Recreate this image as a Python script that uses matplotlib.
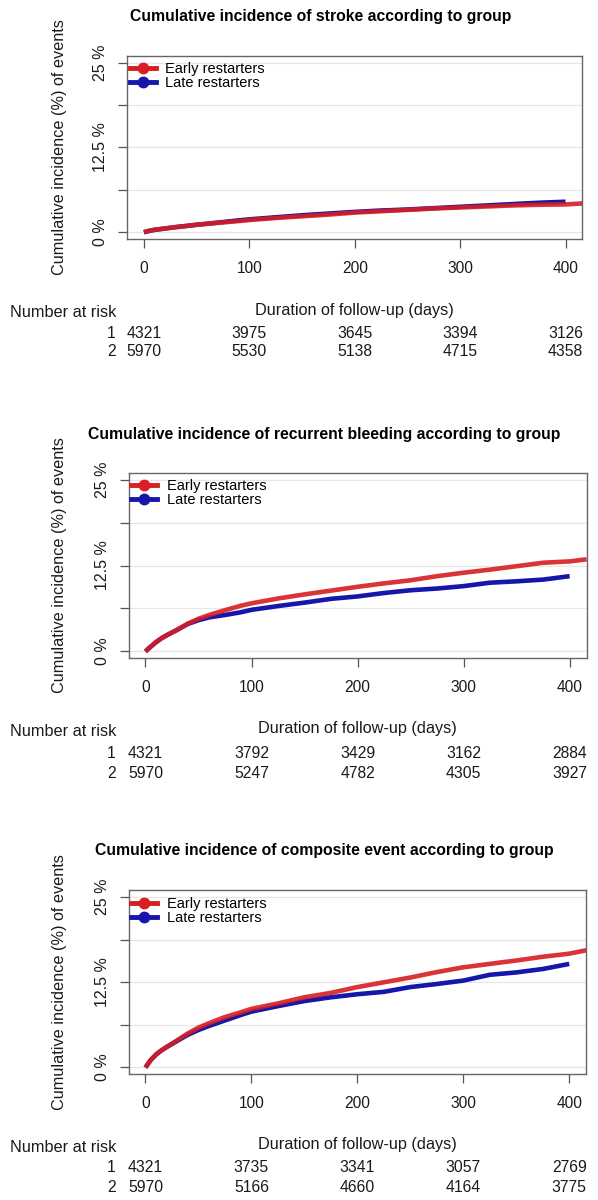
import matplotlib
matplotlib.use('Agg')
import matplotlib.pyplot as plt
from matplotlib.transforms import blended_transform_factory

plt.rcParams['font.family'] = ['Liberation Sans', 'DejaVu Sans']

# 随访天数（曲线取点）
days_late = [0, 5, 10, 15, 20, 30, 40, 50, 60, 75, 90, 100, 125, 150, 175, 200, 225, 250, 275, 300, 325, 350, 375, 400]
days_early = days_late + [416]

# stroke
stroke_early = [0, 0.2, 0.35, 0.45, 0.55, 0.75, 0.92, 1.1, 1.25, 1.45, 1.65, 1.8, 2.1, 2.35, 2.6, 2.9,
                3.1, 3.3, 3.5, 3.65, 3.8, 3.95, 4.05, 4.1, 4.25]
stroke_late = [0, 0.2, 0.35, 0.45, 0.55, 0.75, 0.92, 1.1, 1.25, 1.5, 1.75, 1.9, 2.2, 2.5, 2.75, 3.0,
               3.2, 3.35, 3.55, 3.75, 3.95, 4.15, 4.35, 4.5]
# recurrent bleeding
bleed_early = [0, 0.7, 1.35, 1.9, 2.35, 3.15, 4.05, 4.75, 5.3, 6.0, 6.65, 7.0, 7.7, 8.3, 8.85, 9.4,
               9.9, 10.35, 10.95, 11.45, 11.9, 12.4, 12.9, 13.1, 13.4]
bleed_late = [0, 0.7, 1.35, 1.9, 2.35, 3.15, 4.0, 4.55, 4.95, 5.3, 5.7, 6.05, 6.6, 7.1, 7.65, 8.0,
              8.5, 8.9, 9.15, 9.5, 10.0, 10.2, 10.45, 10.95]
# composite event
comp_early = [0, 1.1, 1.9, 2.5, 3.0, 4.0, 5.0, 5.85, 6.5, 7.4, 8.1, 8.6, 9.4, 10.3, 10.95, 11.8,
              12.5, 13.2, 14.0, 14.7, 15.2, 15.7, 16.25, 16.7, 17.2]
comp_late = [0, 1.1, 1.9, 2.5, 3.0, 3.9, 4.8, 5.5, 6.1, 6.9, 7.7, 8.2, 9.0, 9.75, 10.3, 10.75,
             11.1, 11.8, 12.25, 12.75, 13.6, 13.95, 14.45, 15.2]

titles = ['Cumulative incidence of stroke according to group',
          'Cumulative incidence of recurrent bleeding according to group',
          'Cumulative incidence of composite event according to group']

risk_times = [0, 100, 200, 300, 400]
risk_stroke = [[4321, 3975, 3645, 3394, 3126], [5970, 5530, 5138, 4715, 4358]]
risk_bleed = [[4321, 3792, 3429, 3162, 2884], [5970, 5247, 4782, 4305, 3927]]
risk_comp = [[4321, 3735, 3341, 3057, 2769], [5970, 5166, 4660, 4164, 3775]]

y_ticks = [0, 6.25, 12.5, 18.75, 25]
y_ticklabels = ['0 %', '', '12.5 %', '', '25 %']
group_labels = ['Early restarters', 'Late restarters']

RED = '#d81e22'
BLUE = '#1616aa'
TXT = '#1a1a1a'
W, H = 598, 1200

fig = plt.figure(figsize=(W / 100, H / 100), dpi=100)

# 每个面板的像素位置: 左, 右, 上, 下, 标题x, 标题y, x标签y, 风险行1 y, 风险行2 y
panels = [
    (127, 582.4, 56, 239, 321, 17, 310, 333, 352),
    (128.5, 586.6, 472.7, 658.3, 324.4, 434, 729, 753, 773),
    (128.5, 586.2, 890.3, 1074.3, 324, 851, 1145, 1168, 1188),
]
series = [(stroke_early, stroke_late, risk_stroke),
          (bleed_early, bleed_late, risk_bleed),
          (comp_early, comp_late, risk_comp)]


def fy(ypix):
    return 1 - ypix / H


for (l, r, t, b, tx, ty, xly, r1y, r2y), (early, late, risk), title in zip(panels, series, titles):
    ax = fig.add_axes([l / W, fy(b), (r - l) / W, (b - t) / H])
    for yv in y_ticks:
        ax.axhline(yv, color='#e6e6e6', lw=0.9, zorder=0)
    ax.plot(days_late, late, color=BLUE, lw=3.3, solid_capstyle='butt', zorder=2)
    ax.plot(days_early, early, color=RED, lw=3.3, solid_capstyle='butt', zorder=3, alpha=0.9)
    ax.set_xlim(-16, 416)
    ax.set_ylim(-1, 26)
    ax.set_xticks(risk_times)
    ax.set_xticklabels([str(v) for v in risk_times], fontsize=11.2, color=TXT)
    ax.set_yticks(y_ticks)
    ax.set_yticklabels(y_ticklabels, fontsize=11.5, rotation=90, va='center', color=TXT)
    ax.tick_params(axis='x', length=6.5, width=0.9, color='#555555', pad=9)
    ax.tick_params(axis='y', length=6.5, width=0.9, color='#555555', pad=7)
    for sp in ax.spines.values():
        sp.set_color('#666666')
        sp.set_linewidth(1.0)

    # legend
    h1, = ax.plot([], [], color=RED, lw=3.5, marker='o', ms=7.5)
    h2, = ax.plot([], [], color=BLUE, lw=3.5, marker='o', ms=7.5)
    ax.legend([h1, h2], group_labels, loc='upper left', bbox_to_anchor=(0.006, 0.965),
              frameon=False, fontsize=10.5, handlelength=1.8, handletextpad=0.65,
              labelspacing=0.0, numpoints=1, borderaxespad=0.0, borderpad=0.0)

    fig.text(tx / W, fy(ty), title, fontsize=11.3, fontweight='bold', ha='center', va='center')
    fig.text(60 / W, fy((t + b) / 2), 'Cumulative incidence (%) of events', fontsize=11.7,
             rotation=90, ha='center', va='center', color=TXT)

    # risk table
    trans = blended_transform_factory(ax.transData, fig.transFigure)
    ax.text(200, fy(xly), 'Duration of follow-up (days)', transform=trans, fontsize=11.7,
            ha='center', va='center', color=TXT, clip_on=False)
    fig.text(10 / W, fy(xly + 3), 'Number at risk', fontsize=11.7, ha='left', va='center', color=TXT)
    for gi, (row, ypix) in enumerate(zip(risk, [r1y, r2y])):
        fig.text(116 / W, fy(ypix), str(gi + 1), fontsize=11.3, ha='right', va='center', color=TXT)
        for tv, n in zip(risk_times, row):
            ax.text(tv, fy(ypix), str(n), transform=trans, fontsize=11.3, ha='center', va='center',
                    color=TXT, clip_on=False)

fig.savefig('out.png', dpi=100)
